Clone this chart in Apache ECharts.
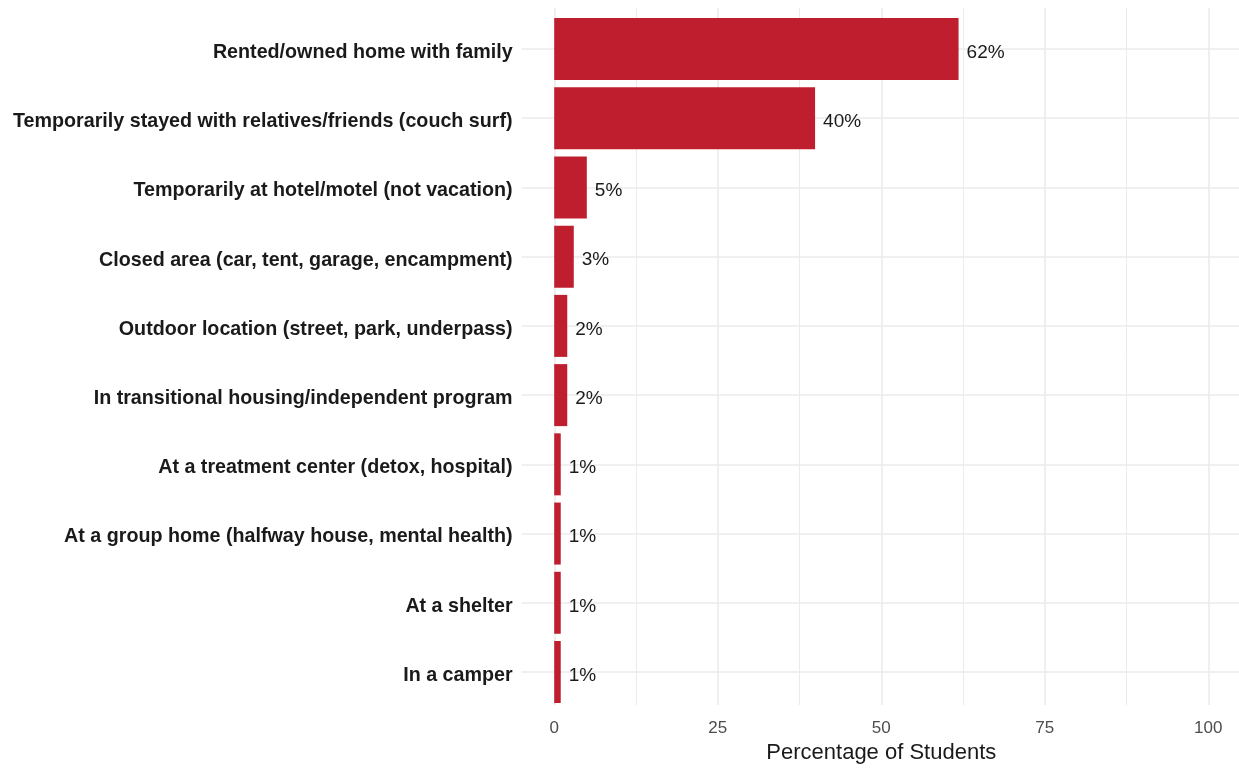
<!DOCTYPE html>
<html>
<head>
<meta charset="utf-8">
<script src="https://cdn.jsdelivr.net/npm/echarts@6/dist/echarts.min.js"></script>
<style>
  html, body { margin: 0; padding: 0; background: #ffffff; }
  #chart { width: 1239px; height: 769px; }
</style>
</head>
<body>
<div id="chart"></div>
<script>
// Where students stayed, share of respondents (%)
const categories = [
  'Rented/owned home with family',
  'Temporarily stayed with relatives/friends (couch surf)',
  'Temporarily at hotel/motel (not vacation)',
  'Closed area (car, tent, garage, encampment)',
  'Outdoor location (street, park, underpass)',
  'In transitional housing/independent program',
  'At a treatment center (detox, hospital)',
  'At a group home (halfway house, mental health)',
  'At a shelter',
  'In a camper'
];
const values = [62, 40, 5, 3, 2, 2, 1, 1, 1, 1];
const xTicks = [0, 25, 50, 75, 100];

const FONT = '"Liberation Sans", Arial, sans-serif';
const GRID_COLOR = '#ebebeb';

const chart = echarts.init(document.getElementById('chart'), null, { renderer: 'canvas' });

chart.setOption({
  backgroundColor: '#ffffff',
  animation: false,
  grid: [
    // bars and horizontal guide lines (scale padded 5 units each side)
    { left: 521.6, right: -2, top: 49, height: 623, containLabel: false },
    // vertical guide lines and the percentage scale
    { left: 554.3, right: 30.7, top: 8, height: 702, containLabel: false }
  ],
  xAxis: [
    {
      gridIndex: 0, type: 'value', min: -5, max: 105,
      axisLine: { show: false }, axisTick: { show: false },
      axisLabel: { show: false }, splitLine: { show: false }
    },
    {
      gridIndex: 1, type: 'value', min: xTicks[0], max: xTicks[xTicks.length - 1], interval: 25,
      axisLine: { show: false }, axisTick: { show: false },
      axisLabel: {
        fontFamily: FONT, fontSize: 17, color: '#4d4d4d', margin: 15,
        formatter: v => (xTicks.includes(v) ? String(v) : '')
      },
      splitLine: { show: true, lineStyle: { color: GRID_COLOR, width: 1.6 } },
      minorTick: { show: false, splitNumber: 2 },
      minorSplitLine: { show: true, lineStyle: { color: GRID_COLOR, width: 1 } },
      name: 'Percentage of Students', nameLocation: 'middle', nameGap: 31,
      nameTextStyle: { fontFamily: FONT, fontSize: 22, color: '#1a1a1a' }
    }
  ],
  yAxis: [
    {
      gridIndex: 0, type: 'category', data: categories, inverse: true, boundaryGap: false,
      axisLine: { show: false }, axisTick: { show: false },
      axisLabel: {
        margin: 9,
        formatter: v => '{c|' + v + '}',
        rich: {
          c: {
            fontFamily: FONT, fontSize: 19.7, fontWeight: 'bold', color: '#1a1a1a',
            padding: [7, 0, 0, 0]
          }
        }
      },
      splitLine: { show: true, lineStyle: { color: GRID_COLOR, width: 1.6 } }
    },
    {
      gridIndex: 1, type: 'value', min: 0, max: 1,
      show: false, splitLine: { show: false }
    }
  ],
  series: [
    {
      type: 'bar', xAxisIndex: 0, yAxisIndex: 0,
      data: values, barWidth: 62, clip: false,
      itemStyle: { color: '#BF1E2E' },
      label: {
        show: true, position: 'right', distance: 8, offset: [0, 3.5],
        fontFamily: FONT, fontSize: 19, color: '#1a1a1a',
        formatter: p => p.value + '%'
      },
      z: 3
    },
    { type: 'bar', xAxisIndex: 1, yAxisIndex: 1, data: [], silent: true }
  ]
});
</script>
</body>
</html>
